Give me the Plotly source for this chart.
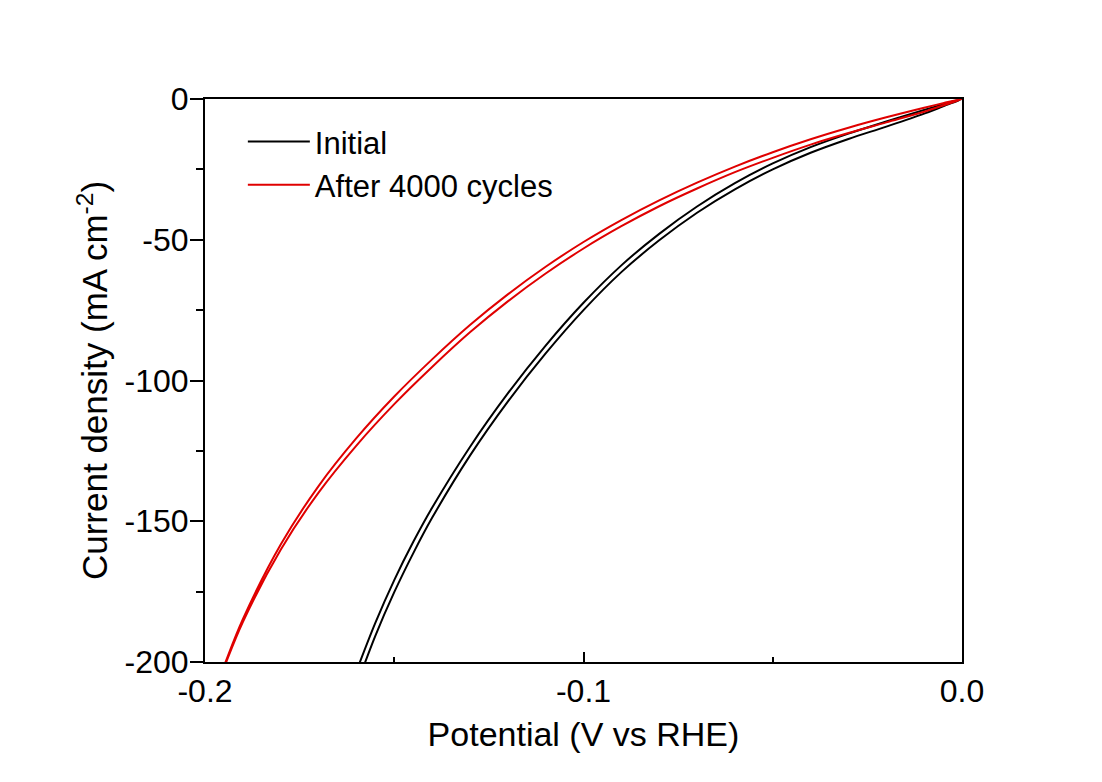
import plotly.graph_objects as go

# ---- data ----
initial_potential = [0.000, -0.005, -0.010, -0.020, -0.030, -0.040, -0.050, -0.060, -0.070, -0.080,
                     -0.090, -0.100, -0.110, -0.120, -0.130, -0.140, -0.145, -0.150, -0.155, -0.160,
                     -0.162]
initial_fwd = [0, -1.9, -3.9, -8.0, -12.3, -17.1, -22.9, -29.9, -38.2, -47.9,
               -59.1, -72.4, -87.6, -104.6, -123.6, -145.2, -157.4, -170.9, -186.1, -203.3,
               -210.5]
initial_rev = [0, -2.6, -5.2, -9.8, -14.2, -19.1, -25.0, -32.1, -40.4, -50.2,
               -61.5, -75.0, -90.4, -107.5, -126.7, -148.8, -161.4, -175.2, -190.7, -208.5,
               -216.1]

after_potential = [0.000, -0.005, -0.010, -0.020, -0.030, -0.040, -0.050, -0.060, -0.070, -0.080,
                   -0.090, -0.100, -0.110, -0.120, -0.130, -0.140, -0.150, -0.160, -0.170, -0.180,
                   -0.190, -0.195, -0.197]
after_fwd = [0, -1.5, -3.1, -6.5, -10.2, -14.3, -18.9, -24.0, -29.7, -36.0,
             -43.0, -50.8, -59.6, -69.4, -80.3, -92.5, -105.7, -120.5, -137.5, -158.3,
             -184.8, -201.5, -208.5]
after_rev = [0, -2.3, -4.5, -8.3, -12.1, -16.2, -20.9, -26.0, -31.8, -38.1,
             -45.2, -53.1, -62.0, -71.9, -82.9, -95.2, -108.4, -123.1, -139.8, -160.1,
             -185.8, -202.1, -209.0]

series_names = ["Initial", "After 4000 cycles"]
series_colors = ["#000000", "#e00000"]

x_ticks = [-0.2, -0.1, 0.0]
x_tick_text = ["-0.2", "-0.1", "0.0"]
y_ticks = [-200, -150, -100, -50, 0]
y_tick_text = ["-200", "-150", "-100", "-50", "0"]

FONT = "Liberation Sans, Arial, sans-serif"

fig = go.Figure()

# each measurement is a forward + reverse sweep drawn as one path
for name, color, pot, fwd, rev in [
    (series_names[0], series_colors[0], initial_potential, initial_fwd, initial_rev),
    (series_names[1], series_colors[1], after_potential, after_fwd, after_rev),
]:
    xs = list(pot) + list(reversed(pot))
    ys = list(fwd) + list(reversed(rev))
    fig.add_trace(go.Scatter(
        x=xs, y=ys, mode="lines", name=name,
        line=dict(color=color, width=2, shape="spline", smoothing=1.0),
    ))

fig.update_layout(
    width=1102, height=782,
    margin=dict(l=205, r=140, t=99, b=120),
    paper_bgcolor="white", plot_bgcolor="white",
    font=dict(family=FONT, color="black"),
    showlegend=True,
    legend=dict(
        x=0.05, y=0.972, xanchor="left", yanchor="top",
        bgcolor="rgba(0,0,0,0)", borderwidth=0,
        font=dict(family=FONT, size=31, color="black"),
        itemwidth=62, tracegroupgap=0,
    ),
)

fig.update_xaxes(
    range=[-0.2, 0.0], tickvals=x_ticks, ticktext=x_tick_text,
    ticks="inside", ticklen=10, tickwidth=2, tickcolor="black",
    minor=dict(ticks="inside", ticklen=5, tickwidth=2, tickcolor="black", dtick=0.05, tick0=0),
    showline=True, linewidth=2, linecolor="black", mirror=True,
    showgrid=False, zeroline=False,
    tickfont=dict(family=FONT, size=32, color="black"),
    ticklabelstandoff=0,
    title=dict(text="Potential (V vs RHE)", font=dict(family=FONT, size=34, color="black"), standoff=14),
)
fig.update_yaxes(
    range=[-200, 0], tickvals=y_ticks, ticktext=y_tick_text,
    ticks="outside", ticklen=13, tickwidth=2, tickcolor="black",
    minor=dict(ticks="outside", ticklen=7, tickwidth=2, tickcolor="black", dtick=25, tick0=0),
    showline=True, linewidth=2, linecolor="black", mirror=True,
    showgrid=False, zeroline=False,
    tickfont=dict(family=FONT, size=32, color="black"),
    ticklabelstandoff=-5,
    title=dict(text="Current density (mA cm<sup>-2</sup>)", font=dict(family=FONT, size=35, color="black"), standoff=6),
)

fig.write_html("out.html")
